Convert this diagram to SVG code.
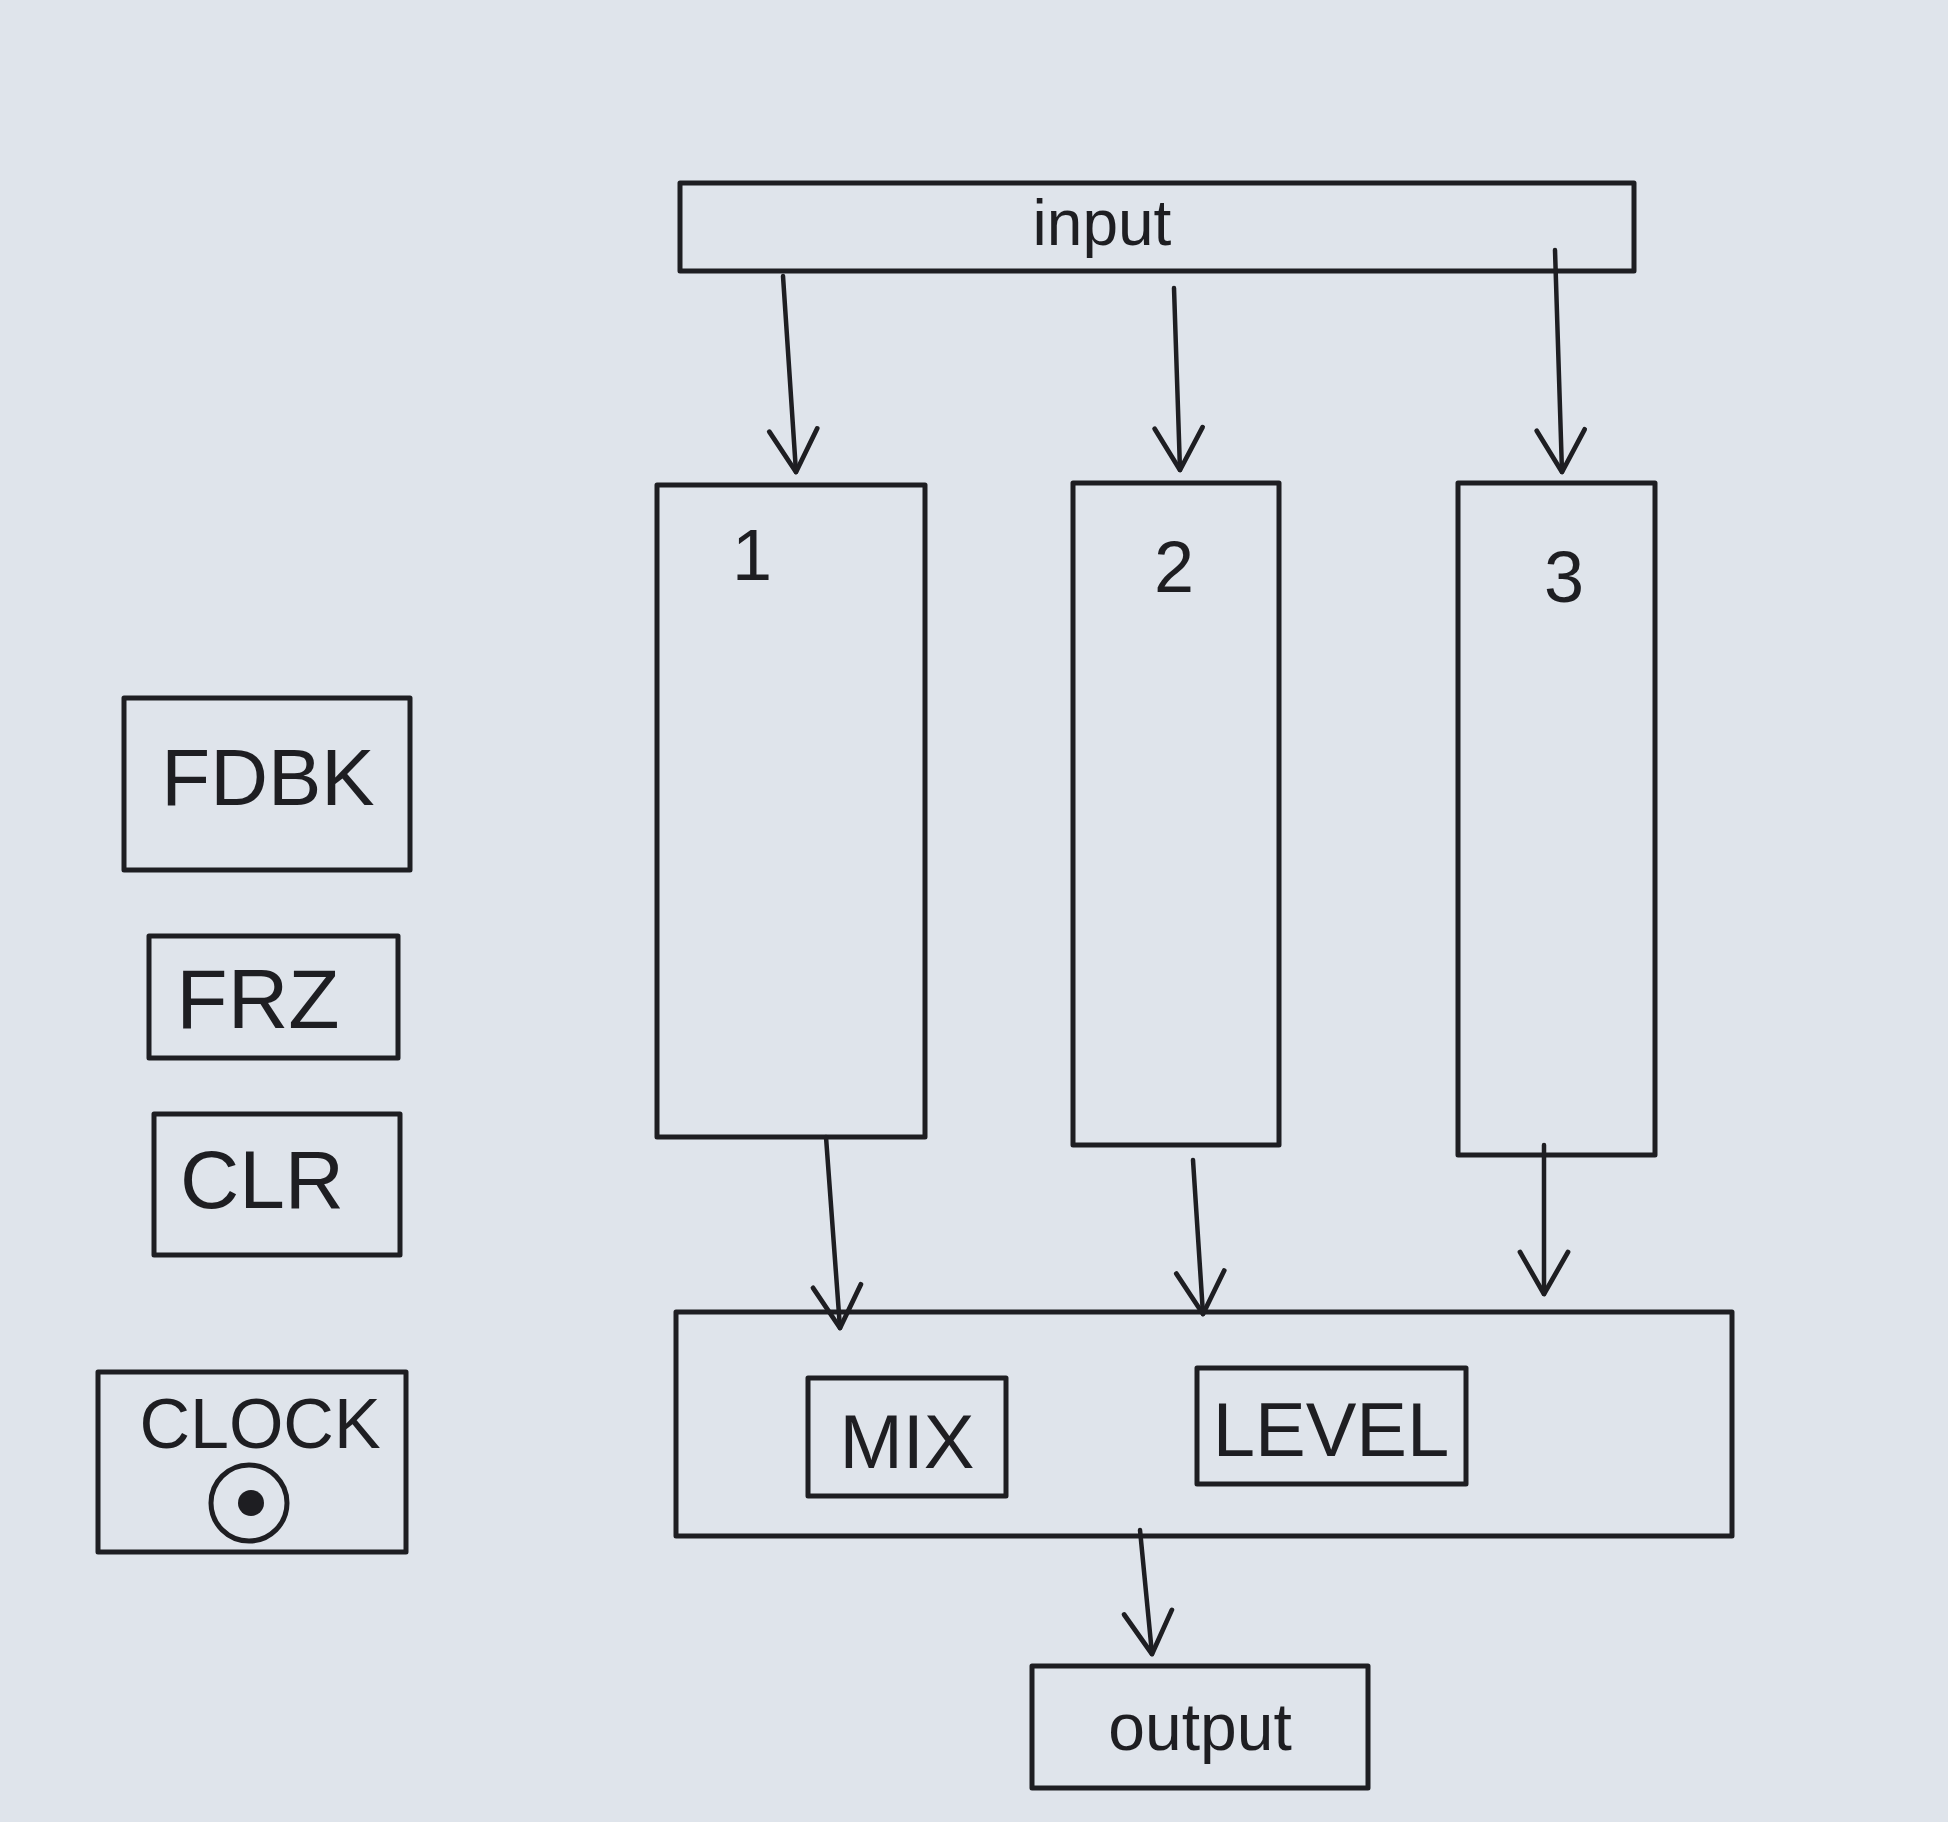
<svg xmlns="http://www.w3.org/2000/svg" width="1948" height="1822" viewBox="0 0 1948 1822">
<defs>
<style>
.box{fill:none;stroke:#1e1e22;stroke-width:5;stroke-linejoin:round}
.ln{fill:none;stroke:#1e1e22;stroke-width:4.5;stroke-linecap:round}
.t{font-family:"Liberation Sans",Arial,sans-serif;fill:#1e1e22;text-anchor:middle}
</style>
<marker id="ah" viewBox="0 0 20 20" refX="18" refY="10" markerWidth="60" markerHeight="60" markerUnits="userSpaceOnUse" orient="auto-start-reverse">
<path d="M4 2 L18 10 L4 18" fill="none" stroke="#1e1e22" stroke-width="1.6" stroke-linecap="round" stroke-linejoin="round"/>
</marker>
</defs>
<rect width="1948" height="1822" fill="#dfe4eb"/>
<g id="input"><rect class="box" x="680" y="183" width="954" height="88"/><text class="t" x="1102" y="245" font-size="64">input</text></g>
<g id="ch1"><rect class="box" x="657" y="485" width="268" height="652"/><text class="t" x="752" y="580" font-size="72">1</text></g>
<g id="ch2"><rect class="box" x="1073" y="483" width="206" height="662"/><text class="t" x="1174" y="592" font-size="72">2</text></g>
<g id="ch3"><rect class="box" x="1458" y="483" width="197" height="672"/><text class="t" x="1564" y="602" font-size="72">3</text></g>
<g id="fdbk"><rect class="box" x="124" y="698" width="286" height="172"/><text class="t" x="268" y="805" font-size="80">FDBK</text></g>
<g id="frz"><rect class="box" x="149" y="936" width="249" height="122"/><text class="t" x="258" y="1028" font-size="84">FRZ</text></g>
<g id="clr"><rect class="box" x="154" y="1114" width="246" height="141"/><text class="t" x="262" y="1208" font-size="82">CLR</text></g>
<g id="clock"><rect class="box" x="98" y="1372" width="308" height="180"/><text class="t" x="260" y="1448" font-size="70">CLOCK</text><circle cx="249" cy="1503" r="38" fill="none" stroke="#1e1e22" stroke-width="5"/><circle cx="251" cy="1503" r="13" fill="#1e1e22"/></g>
<g id="mixer"><rect class="box" x="676" y="1312" width="1056" height="224"/>
<g id="mix"><rect class="box" x="808" y="1378" width="198" height="118"/><text class="t" x="907" y="1468" font-size="76">MIX</text></g>
<g id="level"><rect class="box" x="1197" y="1368" width="269" height="116"/><text class="t" x="1331" y="1456" font-size="76">LEVEL</text></g>
</g>
<g id="output"><rect class="box" x="1032" y="1666" width="336" height="122"/><text class="t" x="1200" y="1750" font-size="66">output</text></g>
<g id="connectors">
<line class="ln" x1="783" y1="276" x2="796" y2="472" marker-end="url(#ah)"/>
<line class="ln" x1="1174" y1="288" x2="1180" y2="470" marker-end="url(#ah)"/>
<line class="ln" x1="1555" y1="250" x2="1562" y2="472" marker-end="url(#ah)"/>
<line class="ln" x1="826" y1="1137" x2="840" y2="1328" marker-end="url(#ah)"/>
<line class="ln" x1="1193" y1="1160" x2="1203" y2="1314" marker-end="url(#ah)"/>
<line class="ln" x1="1544" y1="1145" x2="1544" y2="1294" marker-end="url(#ah)"/>
<line class="ln" x1="1140" y1="1530" x2="1152" y2="1654" marker-end="url(#ah)"/>
</g>
</svg>
